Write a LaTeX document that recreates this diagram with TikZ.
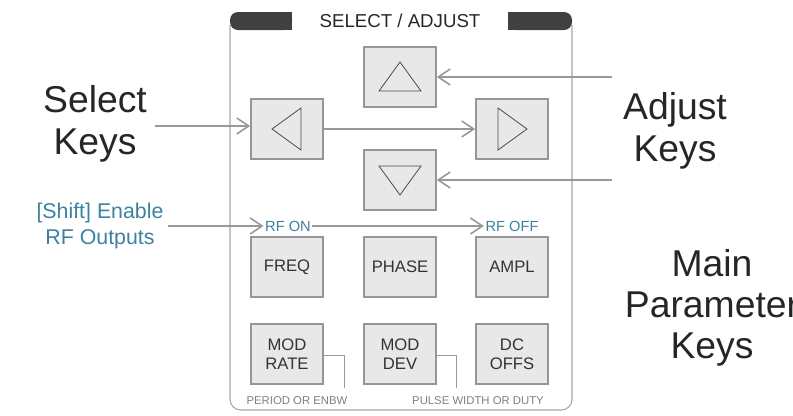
\documentclass[tikz,border=0pt]{standalone}
\usepackage{fontspec}
\setmainfont{Liberation Sans}
\usetikzlibrary{arrows.meta}
\definecolor{keyfill}{RGB}{232,232,232}
\definecolor{keyline}{RGB}{150,150,150}
\definecolor{rfblue}{RGB}{60,130,160}
\tikzset{
  key/.style={draw=keyline, line width=1.2pt, fill=keyfill, minimum width=54pt, minimum height=45pt, inner sep=0pt, align=center, font=\fontsize{12.5}{14}\selectfont, text=black!80},
  pointer/.style={draw=black!40, line width=1.2pt, -{Straight Barb[length=9pt, width=12pt]}},
  big/.style={font=\fontsize{28}{31}\selectfont, align=center, text=black!85},
  small/.style={font=\fontsize{8.5}{9}\selectfont, text=black!50}
}
\begin{document}
\begin{tikzpicture}[x=0.75pt, y=-0.75pt]
  \useasboundingbox (0,0) rectangle (793,415);
  % panel
  \draw[black!35, line width=0.8pt, rounded corners=8pt] (230,25) -- (230,410) -- (572,410) -- (572,25);
  \fill[black!75, rounded corners=6pt] (230,30) -- (230,12) -- (292,12) -- (292,30) -- cycle;
  \fill[black!75, rounded corners=6pt] (508,30) -- (508,12) -- (572,12) -- (572,30) -- cycle;
  \fill[black!75] (240,12) rectangle (292,30);
  \fill[black!75] (508,12) rectangle (562,30);
  \node[font=\fontsize{14}{15}\selectfont, text=black!85] (title) at (400,21) {SELECT / ADJUST};
  % arrow keys
  \node[key] (up) at (400,77) {};
  \node[key] (left) at (287,129) {};
  \node[key] (right) at (512,129) {};
  \node[key] (down) at (400,180) {};
  \draw[black!70, line width=0.6pt] (379,91) -- (421,91) -- (400,62) -- cycle;
  \draw[black!70, line width=0.6pt] (379,166) -- (421,166) -- (400,195) -- cycle;
  \draw[black!70, line width=0.6pt] (301,108) -- (301,150) -- (272,129) -- cycle;
  \draw[black!70, line width=0.6pt] (498,108) -- (498,150) -- (527,129) -- cycle;
  % parameter keys
  \node[key] (freq) at (287,267) {FREQ};
  \node[key] (phase) at (400,267) {PHASE};
  \node[key] (ampl) at (512,267) {AMPL};
  \node[key] (rate) at (287,354) {MOD\\RATE};
  \node[key] (dev) at (400,354) {MOD\\DEV};
  \node[key] (offs) at (512,354) {DC\\OFFS};
  \draw[black!40, line width=0.6pt] (rate.east |- 0,355) -- (344,355) -- (344,388);
  \draw[black!40, line width=0.6pt] (dev.east |- 0,355) -- (456,355) -- (456,388);
  \node[small] (period) at (297,401) {PERIOD OR ENBW};
  \node[small] (pulse) at (478,401) {PULSE WIDTH OR DUTY};
  % RF labels
  \node[font=\fontsize{11}{12}\selectfont, text=rfblue, inner sep=1pt] (rfon) at (288,226) {RF ON};
  \node[font=\fontsize{11}{12}\selectfont, text=rfblue, inner sep=1pt] (rfoff) at (512,226) {RF OFF};
  % callouts
  \node[big] (select) at (95,124) {Select\\Keys};
  \node[big] (adjust) at (675,131) {Adjust\\Keys};
  \node[big] (main) at (712,308) {Main\\Parameter\\Keys};
  \node[font=\fontsize{16}{20}\selectfont, text=rfblue, align=center] (shift) at (100,226) {[Shift] Enable\\RF Outputs};
  \coordinate (sel) at (155,126);
  \coordinate (adjup) at (612,77);
  \coordinate (adjdown) at (612,180);
  \draw[pointer] (sel) -- (left.west |- sel);
  \draw[pointer] (left.east) -- (right.west);
  \draw[pointer] (adjup) -- (up.east);
  \draw[pointer] (adjdown) -- (down.east);
  \draw[pointer] (shift.east |- rfon) -- (rfon.west);
  \draw[pointer] (rfon.east) -- (rfoff.west);
\end{tikzpicture}
\end{document}
